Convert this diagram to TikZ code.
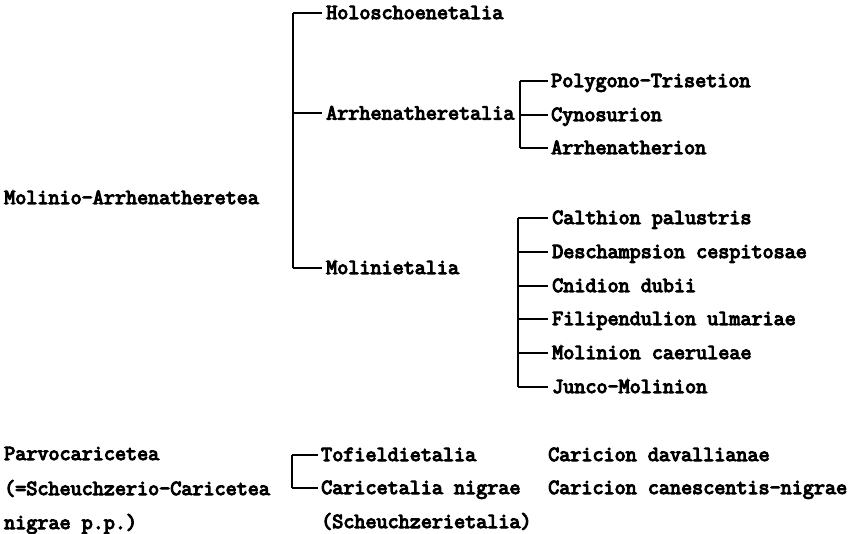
\documentclass[tikz,border=0pt]{standalone}
\usepackage{fontspec}
\newfontfamily\twfont{Latin Modern Mono}[FakeBold=5]
\begin{document}
\begin{tikzpicture}[x=1pt,y=-1pt,
  lab/.style={anchor=base west,inner sep=0pt,text height=12pt,text depth=0pt,
    font=\twfont\fontsize{21.5pt}{23pt}\selectfont},
  br/.style={line width=2pt,line cap=butt,line join=miter}]
\useasboundingbox (0,0) rectangle (865,534);
% class 1
\node[lab] (cls1) at (4,204) {Molinio-Arrhenatheretea};
\node[lab] (o1) at (326,19) {Holoschoenetalia};
\node[lab] (o2) at (326,119.5) {Arrhenatheretalia};
\node[lab] (o3) at (326,274) {Molinietalia};
\coordinate (b1) at (293,0);
\draw[br] (o1.west -| b1) -- (o3.west -| b1);
\draw[br] (o1.west -| b1) -- ([xshift=-4pt]o1.west);
\draw[br] (o2.west -| b1) -- ([xshift=-4pt]o2.west);
\draw[br] (o3.west -| b1) -- ([xshift=-4pt]o3.west);
% Arrhenatheretalia alliances
\node[lab] (a1) at (551,87) {Polygono-Trisetion};
\node[lab] (a2) at (551,121) {Cynosurion};
\node[lab] (a3) at (551,154) {Arrhenatherion};
\coordinate (b2) at (520,0);
\draw[br] (a1.west -| b2) -- (a3.west -| b2);
\foreach \n in {a1,a2,a3} \draw[br] (\n.west -| b2) -- ([xshift=-3pt]\n.west);
% Molinietalia alliances
\node[lab] (m1) at (552,224) {Calthion palustris};
\node[lab] (m2) at (552,258) {Deschampsion cespitosae};
\node[lab] (m3) at (552,292) {Cnidion dubii};
\node[lab] (m4) at (552,325) {Filipendulion ulmariae};
\node[lab] (m5) at (552,359) {Molinion caeruleae};
\node[lab] (m6) at (552,393) {Junco-Molinion};
\coordinate (b3) at (518,0);
\draw[br] (m1.west -| b3) -- (m6.west -| b3);
\foreach \n in {m1,m2,m3,m4,m5,m6} \draw[br] (\n.west -| b3) -- ([xshift=-4pt]\n.west);
% class 2
\node[lab] (p1) at (4,460) {Parvocaricetea};
\node[lab] (p2) at (4,495) {(=Scheuchzerio-Caricetea};
\node[lab] (p3) at (4,529) {nigrae p.p.)};
\node[lab] (t1) at (321,461) {Tofieldietalia};
\node[lab] (t2) at (321,494) {Caricetalia nigrae};
\node[lab] (t3) at (321,528) {(Scheuchzerietalia)};
\coordinate (b4) at (292,0);
\draw[br] (t1.west -| b4) -- (t2.west -| b4);
\foreach \n in {t1,t2} \draw[br] (\n.west -| b4) -- ([xshift=-3pt]\n.west);
\node[lab] (c1) at (548,461) {Caricion davallianae};
\node[lab] (c2) at (548,494) {Caricion canescentis-nigrae};
\end{tikzpicture}
\end{document}
